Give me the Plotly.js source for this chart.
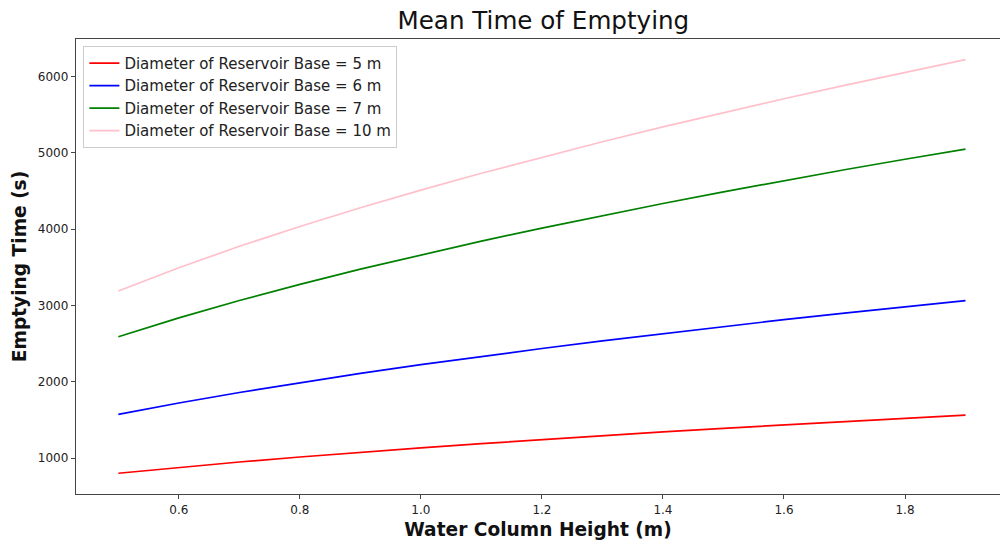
<!DOCTYPE html>
<html>
<head>
<meta charset="utf-8">
<script src="https://cdn.plot.ly/plotly-3.0.1.min.js"></script>
<style>html,body{margin:0;padding:0;background:#fff}#chart{width:1001px;height:540px}</style>
</head>
<body>
<div id="chart"></div>
<script>
const heights = [0.5, 0.6, 0.7, 0.8, 0.9, 1.0, 1.1, 1.2, 1.3, 1.4, 1.5, 1.6, 1.7, 1.8, 1.9];
const time5m  = [804, 881, 951, 1017, 1079, 1137, 1192, 1245, 1296, 1345, 1393, 1438, 1482, 1525, 1565];
const time6m  = [1574, 1724, 1862, 1991, 2112, 2226, 2335, 2438, 2538, 2634, 2726, 2816, 2902, 2986, 3066];
const time7m  = [2592, 2840, 3067, 3279, 3478, 3666, 3845, 4016, 4180, 4338, 4490, 4637, 4780, 4918, 5050];
const time10m = [3192, 3497, 3777, 4037, 4282, 4514, 4734, 4945, 5147, 5341, 5528, 5710, 5885, 6056, 6222];
const seriesNames = [
  "Diameter of Reservoir Base = 5 m",
  "Diameter of Reservoir Base = 6 m",
  "Diameter of Reservoir Base = 7 m",
  "Diameter of Reservoir Base = 10 m"
];
const seriesColors = ["red", "blue", "green", "pink"];
const xTicks = [0.6, 0.8, 1.0, 1.2, 1.4, 1.6, 1.8];
const yTicks = [1000, 2000, 3000, 4000, 5000, 6000];

const allY = [time5m, time6m, time7m, time10m];
const traces = allY.map((ys, i) => ({
  x: heights, y: ys, type: "scatter", mode: "lines",
  name: seriesNames[i],
  line: {color: seriesColors[i], width: 1.7}
}));

const font = "DejaVu Sans, sans-serif";
const layout = {
  width: 1001, height: 540,
  margin: {l: 76, r: 1, t: 39, b: 46},
  paper_bgcolor: "#fff", plot_bgcolor: "#fff",
  font: {family: font, color: "#222", size: 12},
  title: {text: "Mean Time of Emptying", font: {family: font, size: 24.6, color: "#111"},
          x: 0.5428, xanchor: "center", y: 0.962, yanchor: "middle"},
  xaxis: {
    range: [0.43, 1.957], tickvals: xTicks, ticktext: xTicks.map(v => v.toFixed(1)),
    showgrid: false, zeroline: false, showline: true, linecolor: "#444", linewidth: 1.2,
    mirror: true, ticks: "outside", ticklen: 4, tickcolor: "#444",
    tickfont: {family: font, size: 12, color: "#222"},
    title: {text: "<b>Water Column Height (m)</b>", font: {family: font, size: 18.6, color: "#111"}, standoff: 7}
  },
  yaxis: {
    range: [532, 6493], tickvals: yTicks, ticktext: yTicks.map(String),
    showgrid: false, zeroline: false, showline: true, linecolor: "#444", linewidth: 1.2,
    ticks: "outside", ticklen: 4, tickcolor: "#444",
    tickfont: {family: font, size: 12, color: "#222"},
    title: {text: "<b>Emptying Time (s)</b>", font: {family: font, size: 18.6, color: "#111"}, standoff: 6}
  },
  showlegend: true,
  legend: {
    x: 0.008, y: 0.985, xanchor: "left", yanchor: "top",
    bgcolor: "rgba(255,255,255,0.9)", bordercolor: "#ccc", borderwidth: 1,
    font: {family: font, size: 15, color: "#222"}, tracegroupgap: 0, itemwidth: 30
  }
};
Plotly.newPlot("chart", traces, layout, {displayModeBar: false, staticPlot: true});
</script>
</body>
</html>
